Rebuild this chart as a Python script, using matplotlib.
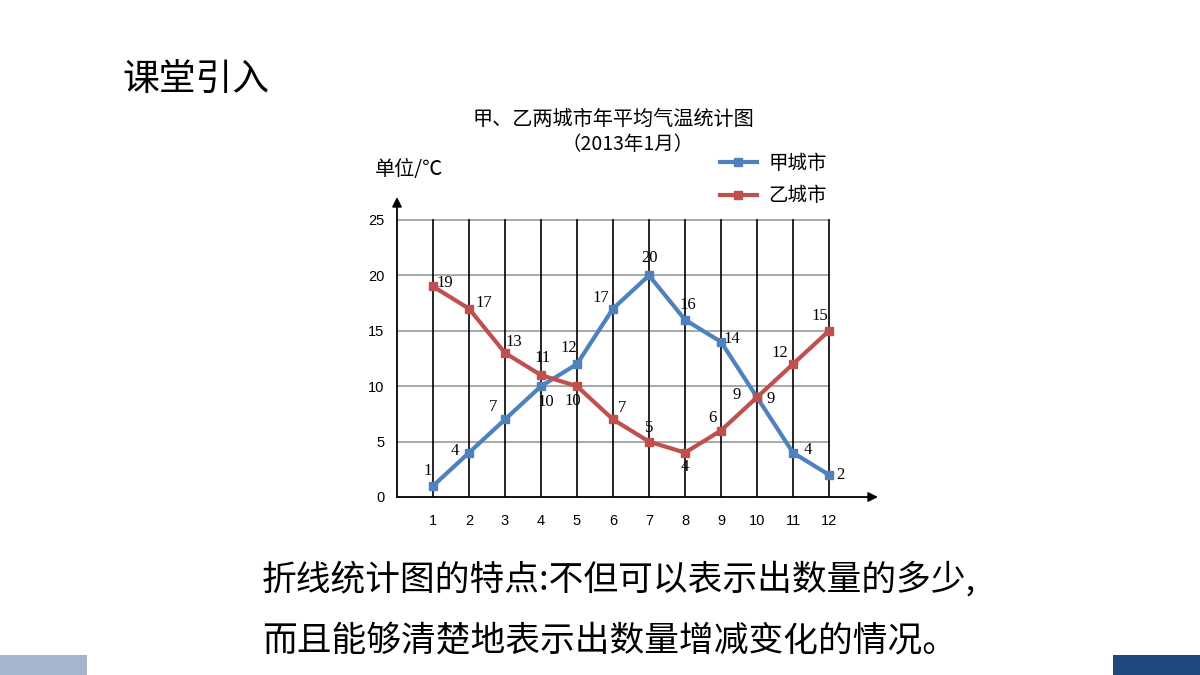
import matplotlib
matplotlib.use("Agg")
import matplotlib.pyplot as plt
from matplotlib.patches import Rectangle

plt.rcParams['font.family'] = ['Noto Sans CJK SC', 'DejaVu Sans']

months = [1, 2, 3, 4, 5, 6, 7, 8, 9, 10, 11, 12]
city_a = [1, 4, 7, 10, 12, 17, 20, 16, 14, 9, 4, 2]      # 甲城市
city_b = [19, 17, 13, 11, 10, 7, 5, 4, 6, 9, 12, 15]     # 乙城市
y_ticks = [0, 5, 10, 15, 20, 25]

# label offsets in pixels (dx, dy)
off_a = [(-5, 15), (-14, 2), (-12, 12), (5, -16), (-8, 16), (-12, 11),
         (0, 17), (3, 15), (11, 3), (14, -2), (15, 3), (11, 0)]
off_b = [(12, 3), (15, 6), (9, 11), (2, 17), (-4, -15), (9, 11),
         (0, 14), (0, -14), (-9, 13), (-20, 2), (-13, 11), (-9, 15)]

blue = '#4F81BD'
red = '#C0504D'

W, H = 1200, 675
fig = plt.figure(figsize=(12, 6.75), dpi=100)
fig.patch.set_facecolor('white')

# chart axes: data x=0 at the y-axis (px 397), y=0 at px 497
x0, y0, x1, y1 = 397, 497, 878, 197
ax = fig.add_axes([x0 / W, (H - y0) / H, (x1 - x0) / W, (y0 - y1) / H])
xmax = (x1 - x0) / 36.0
ymax = (y0 - y1) / ((497 - 220) / 25.0)
ax.set_xlim(0, xmax)
ax.set_ylim(0, ymax)
for s in ax.spines.values():
    s.set_visible(False)
ax.patch.set_alpha(0)

# grid
for v in y_ticks[1:]:
    ax.plot([0, 12], [v, v], color='#999999', lw=1.2, zorder=1)
for m in months:
    ax.plot([m, m], [0, 25], color='black', lw=1.2, zorder=1)

# axes with arrows
ax.annotate('', xy=(xmax, 0), xytext=(0, 0),
            arrowprops=dict(arrowstyle='-|>', color='black', lw=1.3,
                            mutation_scale=14, shrinkA=0, shrinkB=0), zorder=2)
ax.annotate('', xy=(0, ymax), xytext=(0, 0),
            arrowprops=dict(arrowstyle='-|>', color='black', lw=1.3,
                            mutation_scale=14, shrinkA=0, shrinkB=0), zorder=2)

ax.plot(months, city_a, color=blue, lw=3, marker='s', ms=6, zorder=3, label='甲城市')
ax.plot(months, city_b, color=red, lw=3, marker='s', ms=6, zorder=3, label='乙城市')

for m, v, (dx, dy) in zip(months, city_a, off_a):
    ax.annotate(str(v), (m, v), xytext=(dx * 0.72, dy * 0.72), textcoords='offset points',
                ha='center', va='center', fontsize=12, family='Liberation Serif', zorder=4)
for m, v, (dx, dy) in zip(months, city_b, off_b):
    ax.annotate(str(v), (m, v), xytext=(dx * 0.72, dy * 0.72), textcoords='offset points',
                ha='center', va='center', fontsize=12, family='Liberation Serif', zorder=4)

ax.set_xticks(months)
ax.set_xticklabels([str(m) for m in months], fontsize=10.5, family='Liberation Sans')
ax.set_yticks(y_ticks)
ax.set_yticklabels([str(v) for v in y_ticks], fontsize=10.5, family='Liberation Sans')
ax.tick_params(length=0)
ax.tick_params(axis='x', pad=12)
ax.tick_params(axis='y', pad=9)

leg = ax.legend(loc='upper left', bbox_to_anchor=((712 - x0) / (x1 - x0), (y0 - 145) / (y0 - y1)),
                frameon=False, fontsize=14, handlelength=1.9, labelspacing=0.6,
                handletextpad=0.6, borderaxespad=0)

# chart titles
fig.text(613 / W, 1 - 119 / H, '甲、乙两城市年平均气温统计图', ha='center', va='center', fontsize=14.5)
fig.text(628 / W, 1 - 145 / H, '（2013年1月）', ha='center', va='center', fontsize=14)
fig.text(409 / W, 1 - 170 / H, '单位/℃', ha='center', va='center', fontsize=14.5)

# slide texts
fig.text(122 / W, 1 - 80 / H, '课堂引入', ha='left', va='center', fontsize=26.5)
fig.text(262 / W, 1 - 580 / H, '折线统计图的特点:不但可以表示出数量的多少,',
         ha='left', va='center', fontsize=25)
fig.text(262 / W, 1 - 641 / H, '而且能够清楚地表示出数量增减变化的情况。',
         ha='left', va='center', fontsize=25)

# bottom decorations
fig.patches.append(Rectangle((0, 0), 87 / W, 20 / H, transform=fig.transFigure,
                             facecolor='#A5B6CC', edgecolor='none'))
fig.patches.append(Rectangle((1113 / W, 0), 87 / W, 20 / H, transform=fig.transFigure,
                             facecolor='#1F497D', edgecolor='none'))

fig.savefig('out.png', dpi=100)
